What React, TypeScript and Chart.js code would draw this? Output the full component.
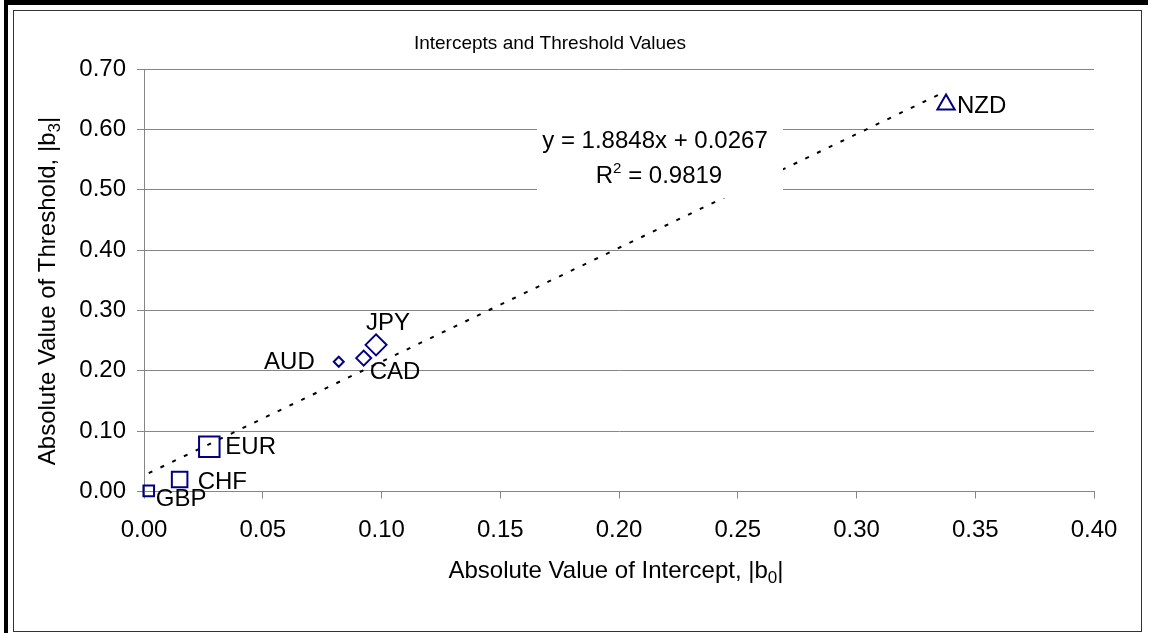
import React, { useEffect, useRef } from 'react';
import { Chart, registerables } from 'chart.js';

Chart.register(...registerables);

// ---------- data ----------
const currencies = ['GBP', 'CHF', 'EUR', 'AUD', 'CAD', 'JPY', 'NZD'];
const interceptAbs = [0.002, 0.015, 0.0275, 0.082, 0.0925, 0.0977, 0.3377];
const thresholdAbs = [0.001, 0.02, 0.074, 0.215, 0.221, 0.243, 0.641];
const xTickLabels = ['0.00', '0.05', '0.10', '0.15', '0.20', '0.25', '0.30', '0.35', '0.40'];
const yTickLabels = ['0.00', '0.10', '0.20', '0.30', '0.40', '0.50', '0.60', '0.70'];
const trendSlope = 1.8848;
const trendIntercept = 0.0267;
const rSquared = 0.9819;
const chartTitle = 'Intercepts and Threshold Values';

// ---------- styles ----------
const FONT = "'Liberation Sans', Arial, Helvetica, sans-serif";
const NAVY = '#000080';
const GRID = '#868686';
const markerStyle: Record<string, { style: string; radius: number }> = {
  GBP: { style: 'rect', radius: 7.5 },
  CHF: { style: 'rect', radius: 11 },
  EUR: { style: 'rect', radius: 14.5 },
  AUD: { style: 'rectRot', radius: 5 },
  CAD: { style: 'rectRot', radius: 7.5 },
  JPY: { style: 'rectRot', radius: 10.5 },
  NZD: { style: 'triangle', radius: 10 },
};
// offset from marker centre to label anchor (dx, dy, align)
const labelOffset: Record<string, [number, number, CanvasTextAlign]> = {
  GBP: [7, 7, 'left'],
  CHF: [18, 1, 'left'],
  EUR: [16, -1, 'left'],
  AUD: [-24, -1, 'right'],
  CAD: [6, 12, 'left'],
  JPY: [-10, -23, 'left'],
  NZD: [11, 0, 'left'],
};

type Seg = { text: string; size: number; dy: number };

function drawRich(ctx: CanvasRenderingContext2D, segs: Seg[], cx: number, baseline: number) {
  let total = 0;
  for (const s of segs) {
    ctx.font = `${s.size}px ${FONT}`;
    total += ctx.measureText(s.text).width;
  }
  let x = cx - total / 2;
  ctx.textAlign = 'left';
  ctx.textBaseline = 'alphabetic';
  for (const s of segs) {
    ctx.font = `${s.size}px ${FONT}`;
    ctx.fillText(s.text, x, baseline + s.dy);
    x += ctx.measureText(s.text).width;
  }
}

const decorPlugin = {
  id: 'decor',
  beforeDraw(chart: any) {
    const ctx = chart.ctx as CanvasRenderingContext2D;
    ctx.save();
    ctx.fillStyle = '#ffffff';
    ctx.fillRect(0, 0, chart.width, chart.height);
    ctx.fillStyle = '#000000';
    ctx.fillRect(4, 0, 1144, 5);
    ctx.fillRect(4, 0, 4, chart.height);
    ctx.strokeStyle = '#333333';
    ctx.lineWidth = 1;
    ctx.strokeRect(13.5, 10.5, 1128, 621);
    ctx.restore();
  },
  afterDatasetsDraw(chart: any) {
    const ctx = chart.ctx as CanvasRenderingContext2D;
    const xs = chart.scales.x;
    const ys = chart.scales.y;
    ctx.save();
    ctx.fillStyle = '#000000';

    // title
    drawRich(ctx, [{ text: chartTitle, size: 19, dy: 0 }], 550, 48.5);

    // x axis title
    drawRich(
      ctx,
      [
        { text: 'Absolute Value of Intercept, |b', size: 24, dy: 0 },
        { text: '0', size: 17, dy: 5 },
        { text: '|', size: 24, dy: 0 },
      ],
      616,
      578
    );

    // y axis title
    ctx.save();
    ctx.translate(46.5, 291);
    ctx.rotate(-Math.PI / 2);
    drawRich(
      ctx,
      [
        { text: 'Absolute Value of Threshold, |b', size: 24, dy: 0 },
        { text: '3', size: 17, dy: 5 },
        { text: '|', size: 24, dy: 0 },
      ],
      0,
      8.6
    );
    ctx.restore();

    // trend line label box
    ctx.fillStyle = '#ffffff';
    ctx.fillRect(537, 121, 246, 77);
    ctx.fillStyle = '#000000';
    const sign = trendIntercept >= 0 ? '+' : '-';
    drawRich(
      ctx,
      [{ text: `y = ${trendSlope.toFixed(4)}x ${sign} ${Math.abs(trendIntercept).toFixed(4)}`, size: 24, dy: 0 }],
      655,
      148
    );
    drawRich(
      ctx,
      [
        { text: 'R', size: 24, dy: 0 },
        { text: '2', size: 15, dy: -10 },
        { text: ` = ${rSquared.toFixed(4)}`, size: 24, dy: 0 },
      ],
      659,
      182.5
    );

    // point labels
    ctx.font = `24px ${FONT}`;
    ctx.textBaseline = 'alphabetic';
    currencies.forEach((c, i) => {
      const px = xs.getPixelForValue(interceptAbs[i]);
      const py = ys.getPixelForValue(thresholdAbs[i]);
      const [dx, dy, align] = labelOffset[c];
      ctx.textAlign = align;
      ctx.fillText(c, px + dx, py + dy + 8.6);
    });
    ctx.restore();
  },
};

export default function App() {
  const ref = useRef<HTMLCanvasElement | null>(null);

  useEffect(() => {
    if (!ref.current) return;
    const xMin = Math.min(...interceptAbs);
    const xMax = Math.max(...interceptAbs);
    const trendData = [
      { x: xMin, y: trendSlope * xMin + trendIntercept },
      { x: xMax, y: trendSlope * xMax + trendIntercept },
    ];
    const pointData = currencies.map((c, i) => ({ x: interceptAbs[i], y: thresholdAbs[i] }));
    const tickFont = { family: FONT, size: 24 };

    const chart = new Chart(ref.current, {
      type: 'scatter',
      data: {
        datasets: [
          {
            type: 'line',
            label: 'Trend',
            data: trendData,
            borderColor: '#000000',
            borderWidth: 2,
            borderDash: [4, 9],
            pointRadius: 0,
            fill: false,
            order: 2,
            clip: false,
          } as any,
          {
            label: 'Currencies',
            data: pointData,
            pointStyle: currencies.map((c) => markerStyle[c].style) as any,
            pointRadius: currencies.map((c) => markerStyle[c].radius),
            pointBorderColor: NAVY,
            pointBackgroundColor: 'rgba(0,0,0,0)',
            pointBorderWidth: 2,
            showLine: false,
            order: 1,
            clip: false,
          } as any,
        ],
      },
      options: {
        responsive: false,
        animation: false,
        layout: { padding: { left: 0, right: 57, top: 69, bottom: 0 } },
        plugins: {
          legend: { display: false },
          tooltip: { enabled: false },
          title: { display: false },
        },
        scales: {
          x: {
            type: 'linear',
            min: 0,
            max: 0.4,
            afterBuildTicks: (s: any) => {
              s.ticks = xTickLabels.map((t) => ({ value: parseFloat(t) }));
            },
            afterFit: (s: any) => {
              s.height = 141.5;
            },
            ticks: {
              font: tickFont,
              color: '#000000',
              padding: 17,
              maxRotation: 0,
              autoSkip: false,
              callback: (v: any) => Number(v).toFixed(2),
            },
            grid: { drawOnChartArea: false, drawTicks: true, tickLength: 7, tickColor: GRID },
            border: { display: true, color: GRID, width: 1 },
          },
          y: {
            type: 'linear',
            min: 0,
            max: 0.7,
            afterBuildTicks: (s: any) => {
              s.ticks = yTickLabels.map((t) => ({ value: parseFloat(t) }));
            },
            afterFit: (s: any) => {
              s.width = 144;
            },
            ticks: {
              font: tickFont,
              color: '#000000',
              padding: 11,
              autoSkip: false,
              callback: (v: any) => Number(v).toFixed(2),
            },
            grid: { color: GRID, drawTicks: true, tickLength: 7, tickColor: GRID },
            border: { display: true, color: GRID, width: 1 },
          },
        },
      },
      plugins: [decorPlugin],
    });
    return () => chart.destroy();
  }, []);

  return (
    <div style={{ position: 'absolute', left: 0, top: 0, width: 1151, height: 633, background: '#fff' }}>
      <canvas ref={ref} width={1151} height={633} style={{ display: 'block', width: 1151, height: 633 }} />
    </div>
  );
}
